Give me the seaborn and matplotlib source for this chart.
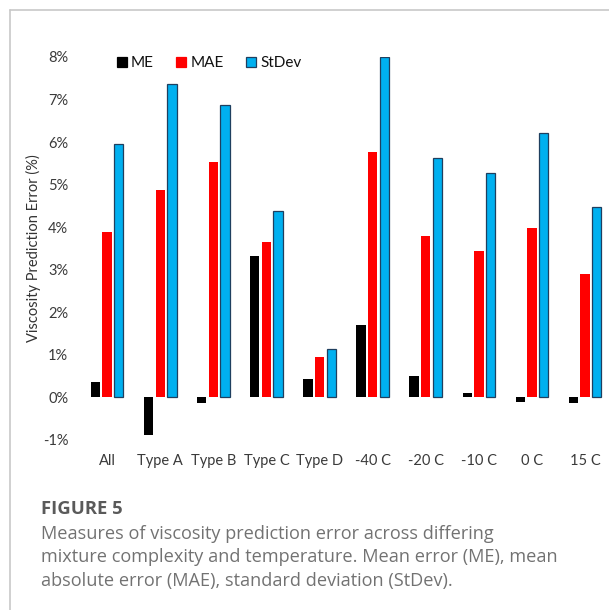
import numpy as np
import pandas as pd
import matplotlib.pyplot as plt
import matplotlib.lines as mlines
import seaborn as sns

# categories and the three error measures (in %)
categories = ["All", "Type A", "Type B", "Type C", "Type D",
              "-40 C", "-20 C", "-10 C", "0 C", "15 C"]
me_vals = [0.37, -0.88, -0.13, 3.33, 0.42, 1.69, 0.50, 0.09, -0.10, -0.13]
mae_vals = [3.89, 4.88, 5.53, 3.66, 0.94, 5.77, 3.78, 3.43, 3.97, 2.89]
std_vals = [5.96, 7.37, 6.88, 4.37, 1.13, 8.00, 5.63, 5.28, 6.21, 4.48]
metrics = ["ME", "MAE", "StDev"]
ytick_vals = [-1, 0, 1, 2, 3, 4, 5, 6, 7, 8]

df = pd.DataFrame({
    "category": categories * 3,
    "metric": np.repeat(metrics, len(categories)),
    "value": me_vals + mae_vals + std_vals,
})

sns.set_style("white")
plt.rcParams["font.family"] = ["Lato", "DejaVu Sans"]

fig = plt.figure(figsize=(6.09, 6.10), dpi=100)
W, H = 609, 610
ax = fig.add_axes([80 / W, 1 - 439.8 / H, (609 - 80) / W, (439.8 - 57) / H])

palette = {"ME": "#000000", "MAE": "#ff0000", "StDev": "#00b0f0"}
sns.barplot(data=df, x="category", y="value", hue="metric", palette=palette,
            width=0.66, gap=0.2, saturation=1, ax=ax, legend=False)

# outline on the StDev bars only
for bar in ax.containers[2]:
    bar.set_edgecolor("#1f3f5f")
    bar.set_linewidth(0.9)
for c in ax.containers[:2]:
    for bar in c:
        bar.set_linewidth(0)

ax.set_xlim(-0.51, 9.45)
ax.set_ylim(-1, 8)
ax.set_yticks(ytick_vals)
ax.set_yticklabels([f"{v}%" for v in ytick_vals])
for s in ax.spines.values():
    s.set_visible(False)
ax.tick_params(axis="both", length=0, labelsize=10.5, colors="#3a3a3a")
ax.tick_params(axis="y", pad=8.5)
ax.tick_params(axis="x", pad=10)
ax.set_xlabel("")
ax.set_ylabel("Viscosity Prediction Error (%)", fontsize=10.5, color="#333333", labelpad=1)

# legend
handles = []
for m in metrics:
    ec = "#1f3f5f" if m == "StDev" else palette[m]
    handles.append(mlines.Line2D([], [], marker="s", linestyle="none", markersize=6.5,
                                 markerfacecolor=palette[m], markeredgecolor=ec,
                                 markeredgewidth=0.9))
ax.legend(handles, metrics, loc="center left", bbox_to_anchor=(0.043, 0.984), ncol=3,
          frameon=False, fontsize=11, handletextpad=0.25, columnspacing=1.45,
          handlelength=0.7, labelcolor="#111111")

# figure frame lines (top and left)
fig.add_artist(mlines.Line2D([10 / W, 1], [1 - 10 / H, 1 - 10 / H], color="#c8c8c8", lw=1.2))
fig.add_artist(mlines.Line2D([10 / W, 10 / W], [0, 1 - 10 / H], color="#c8c8c8", lw=1.2))

# caption
fig.text(41 / W, 1 - 514 / H, "FIGURE 5", fontsize=13.3, fontweight="bold", va="baseline",
         color="#5a5a5a", family=["Open Sans", "DejaVu Sans"])
caption = ["Measures of viscosity prediction error across differing",
           "mixture complexity and temperature. Mean error (ME), mean",
           "absolute error (MAE), standard deviation (StDev)."]
for i, line in enumerate(caption):
    fig.text(41 / W, 1 - (539 + 23.5 * i) / H, line, fontsize=13.1, va="baseline",
             color="#727272", family=["Open Sans", "DejaVu Sans"])

fig.savefig("out.png", dpi=100)
